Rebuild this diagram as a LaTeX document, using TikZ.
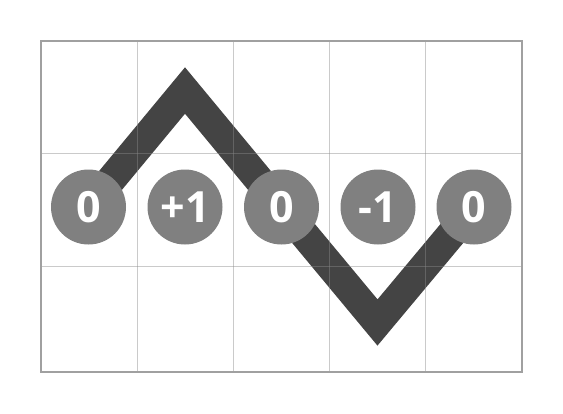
\documentclass[tikz,border=0pt]{standalone}
\usepackage{fontspec}
\setsansfont{Open Sans}
\begin{document}
\begin{tikzpicture}[x=1pt,y=-1pt,
  zig/.style={draw=zigcol,line width=29.6pt,line join=miter,miter limit=10},
  gridline/.style={draw=gridcol,line width=1pt,opacity=0.45},
  frameline/.style={draw=framecol,line width=1.5pt},
  disc/.style={circle,fill=disccol,minimum size=75pt,inner sep=0pt,text=white,
    font=\sffamily\bfseries\fontsize{43}{43}\selectfont}]
\definecolor{zigcol}{HTML}{444444}
\definecolor{gridcol}{HTML}{8A8A8A}
\definecolor{framecol}{HTML}{A0A0A0}
\definecolor{disccol}{HTML}{808080}
\useasboundingbox (0,0) rectangle (563,413);
\fill[white] (0,0) rectangle (563,413);
\coordinate (k1) at (88.5,207);
\coordinate (k2) at (185,207);
\coordinate (k3) at (281.5,207);
\coordinate (k4) at (378,207);
\coordinate (k5) at (474,207);
\coordinate (top) at (185,90.5);
\coordinate (bot) at (377.5,322.5);
\draw[zig] (k1) -- (top) -- (k3) -- (bot) -- (k5);
\foreach \x in {137.2,233.4,329.6,425.8}
  \draw[gridline] (\x,41) -- (\x,372);
\foreach \y in {153,266}
  \draw[gridline] (41,\y) -- (522,\y);
\draw[frameline] (41,41) rectangle (522,372);
\node[disc] (c1) at (k1) {0};
\node[disc] (c2) at (k2) {+1};
\node[disc] (c3) at (k3) {0};
\node[disc] (c4) at (k4) {-1};
\node[disc] (c5) at (k5) {0};
\end{tikzpicture}
\end{document}
